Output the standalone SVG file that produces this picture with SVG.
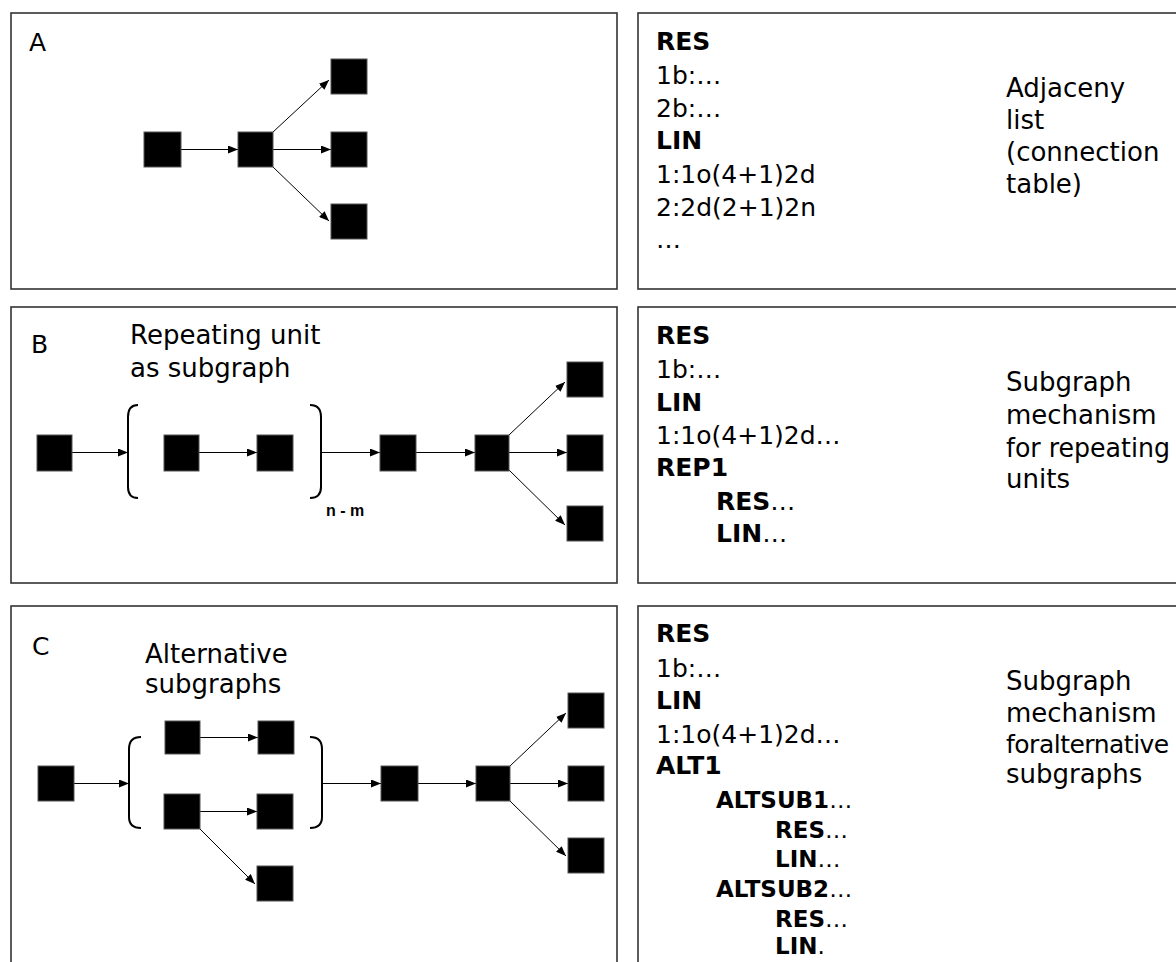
<svg xmlns="http://www.w3.org/2000/svg" width="1176" height="962" viewBox="0 0 1176 962">
<style>
.panel{fill:#fff;stroke:#333;stroke-width:1.6}
.node{fill:#000;stroke:#555;stroke-width:1}
.edge{stroke:#000;stroke-width:1;fill:none}
.br{stroke:#000;stroke-width:2;fill:none}
text{font-family:"DejaVu Sans","Liberation Sans",sans-serif;fill:#000}
.lbl{font-size:25px}
.ann{font-size:26px}
.code{font-size:25px}
.sub{font-size:23px}
.b{font-weight:bold}
.nm{font-size:16px;font-weight:bold;font-family:"Liberation Sans",sans-serif}
.tight{font-size:25px;letter-spacing:-0.5px}
</style>
<defs>
<marker id="arr" markerUnits="userSpaceOnUse" markerWidth="10" markerHeight="8" refX="10" refY="4" orient="auto">
<path d="M0,0 L10,4 L0,8 z" fill="#000"/>
</marker>
</defs>
<rect width="1176" height="962" fill="#fff"/>
<g id="panels">
<rect class="panel" x="11" y="13" width="606" height="276"/>
<rect class="panel" x="638" y="13" width="560" height="276"/>
<rect class="panel" x="11" y="307" width="606" height="276"/>
<rect class="panel" x="638" y="307" width="560" height="276"/>
<rect class="panel" x="11" y="606" width="606" height="380"/>
<rect class="panel" x="638" y="606" width="560" height="380"/>
</g>
<g id="labels">
<text class="lbl" x="29" y="51">A</text>
<text class="lbl" x="31" y="353">B</text>
<text class="lbl" x="32" y="655">C</text>
<text class="ann" x="130" y="344">Repeating unit</text>
<text class="ann" x="130" y="377">as subgraph</text>
<text class="ann" x="145" y="663">Alternative</text>
<text class="ann" x="145" y="693">subgraphs</text>
<text class="nm" x="326" y="516">n - m</text>
</g>
<g id="brackets">
<path class="br" d="M138,405 Q128,405 128,417 L128,487 Q128,498 138,498"/>
<path class="br" d="M310,405 Q321,405 321,417 L321,487 Q321,498 310,498"/>
<path class="br" d="M141,737 Q129,737 129,749 L129,817 Q129,828 141,828"/>
<path class="br" d="M310,737 Q322,737 322,749 L322,817 Q322,828 310,828"/>
</g>
<g id="connectors">
<line class="edge" x1="181" y1="149.5" x2="238" y2="149.5" marker-end="url(#arr)"/>
<line class="edge" x1="273" y1="132" x2="329" y2="80" marker-end="url(#arr)"/>
<line class="edge" x1="273" y1="149.5" x2="331" y2="149.5" marker-end="url(#arr)"/>
<line class="edge" x1="273" y1="167" x2="329" y2="221" marker-end="url(#arr)"/>
<line class="edge" x1="72" y1="452.5" x2="128" y2="452.5" marker-end="url(#arr)"/>
<line class="edge" x1="199" y1="452.5" x2="257" y2="452.5" marker-end="url(#arr)"/>
<line class="edge" x1="321" y1="452.5" x2="380" y2="452.5" marker-end="url(#arr)"/>
<line class="edge" x1="416" y1="452.5" x2="475" y2="452.5" marker-end="url(#arr)"/>
<line class="edge" x1="509" y1="452.5" x2="567" y2="452.5" marker-end="url(#arr)"/>
<line class="edge" x1="509" y1="435" x2="565" y2="382" marker-end="url(#arr)"/>
<line class="edge" x1="509" y1="470" x2="565" y2="525" marker-end="url(#arr)"/>
<line class="edge" x1="74" y1="783.5" x2="129" y2="783.5" marker-end="url(#arr)"/>
<line class="edge" x1="200" y1="737.5" x2="258" y2="737.5" marker-end="url(#arr)"/>
<line class="edge" x1="200" y1="811.5" x2="257" y2="811.5" marker-end="url(#arr)"/>
<line class="edge" x1="200" y1="829" x2="255" y2="884" marker-end="url(#arr)"/>
<line class="edge" x1="322" y1="783.5" x2="381" y2="783.5" marker-end="url(#arr)"/>
<line class="edge" x1="418" y1="783.5" x2="476" y2="783.5" marker-end="url(#arr)"/>
<line class="edge" x1="510" y1="783.5" x2="568" y2="783.5" marker-end="url(#arr)"/>
<line class="edge" x1="510" y1="766" x2="566" y2="713" marker-end="url(#arr)"/>
<line class="edge" x1="510" y1="801" x2="566" y2="856" marker-end="url(#arr)"/>
</g>
<g id="nodesA">
<rect id="a1" class="node" x="144" y="132" width="37" height="35"/>
<rect id="a2" class="node" x="238" y="132" width="35" height="35"/>
<rect id="a3" class="node" x="331" y="59" width="36" height="35"/>
<rect id="a4" class="node" x="331" y="132" width="36" height="35"/>
<rect id="a5" class="node" x="331" y="204" width="36" height="35"/>
</g>
<g id="nodesB">
<rect id="b1" class="node" x="37" y="435" width="35" height="36"/>
<rect id="b2" class="node" x="164" y="435" width="35" height="36"/>
<rect id="b3" class="node" x="257" y="435" width="36" height="36"/>
<rect id="b4" class="node" x="380" y="435" width="36" height="36"/>
<rect id="b5" class="node" x="475" y="435" width="34" height="36"/>
<rect id="b6" class="node" x="567" y="362" width="36" height="35"/>
<rect id="b7" class="node" x="567" y="435" width="36" height="36"/>
<rect id="b8" class="node" x="567" y="506" width="36" height="35"/>
</g>
<g id="nodesC">
<rect id="c1" class="node" x="38" y="766" width="36" height="35"/>
<rect id="c2" class="node" x="165" y="721" width="35" height="33"/>
<rect id="c3" class="node" x="258" y="721" width="36" height="33"/>
<rect id="c4" class="node" x="164" y="794" width="36" height="35"/>
<rect id="c5" class="node" x="257" y="794" width="36" height="35"/>
<rect id="c6" class="node" x="257" y="866" width="36" height="35"/>
<rect id="c7" class="node" x="381" y="766" width="37" height="35"/>
<rect id="c8" class="node" x="476" y="766" width="34" height="35"/>
<rect id="c9" class="node" x="568" y="693" width="36" height="35"/>
<rect id="c10" class="node" x="568" y="766" width="36" height="35"/>
<rect id="c11" class="node" x="568" y="838" width="36" height="35"/>
</g>
<g id="textA">
<text class="code b" x="656" y="50">RES</text>
<text class="code" x="656" y="84">1b:…</text>
<text class="code" x="656" y="117">2b:…</text>
<text class="code b" x="656" y="149">LIN</text>
<text class="code" x="656" y="183">1:1o(4+1)2d</text>
<text class="code" x="656" y="216">2:2d(2+1)2n</text>
<text class="code" x="656" y="248">…</text>
<text class="ann" x="1006" y="97">Adjaceny</text>
<text class="ann" x="1006" y="129">list</text>
<text class="ann" x="1006" y="161">(connection</text>
<text class="ann" x="1006" y="193">table)</text>
</g>
<g id="textB">
<text class="code b" x="656" y="344">RES</text>
<text class="code" x="656" y="378">1b:…</text>
<text class="code b" x="656" y="411">LIN</text>
<text class="code" x="656" y="444">1:1o(4+1)2d…</text>
<text class="code b" x="656" y="476">REP1</text>
<text class="code" x="716" y="510"><tspan class="b">RES</tspan>…</text>
<text class="code" x="716" y="542"><tspan class="b">LIN</tspan>…</text>
<text class="ann" x="1006" y="391">Subgraph</text>
<text class="ann" x="1006" y="424">mechanism</text>
<text class="ann" x="1006" y="457" textLength="164" lengthAdjust="spacingAndGlyphs">for repeating</text>
<text class="ann" x="1006" y="488">units</text>
</g>
<g id="textC">
<text class="code b" x="656" y="642">RES</text>
<text class="code" x="656" y="677">1b:…</text>
<text class="code b" x="656" y="709">LIN</text>
<text class="code" x="656" y="743">1:1o(4+1)2d…</text>
<text class="code b" x="656" y="774">ALT1</text>
<text class="sub" x="716" y="808"><tspan class="b">ALTSUB1</tspan>…</text>
<text class="sub" x="775" y="838"><tspan class="b">RES</tspan>…</text>
<text class="sub" x="775" y="867"><tspan class="b">LIN</tspan>…</text>
<text class="sub" x="716" y="897"><tspan class="b">ALTSUB2</tspan>…</text>
<text class="sub" x="775" y="927"><tspan class="b">RES</tspan>…</text>
<text class="sub" x="775" y="954"><tspan class="b">LIN</tspan>.</text>
<text class="ann" x="1006" y="690">Subgraph</text>
<text class="ann" x="1006" y="722">mechanism</text>
<text class="tight" x="1006" y="753">foralternative</text>
<text class="ann" x="1006" y="783">subgraphs</text>
</g>
</svg>
